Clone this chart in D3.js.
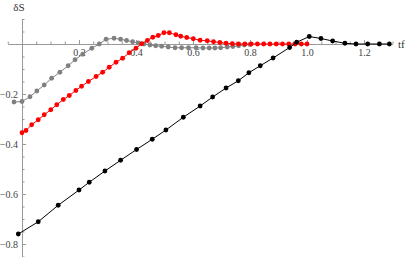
<!DOCTYPE html>
<html>
<head>
<meta charset="utf-8">
<script src="https://cdn.jsdelivr.net/npm/d3@7"></script>
<style>
  body { margin: 0; background: #fff; }
  svg { display: block; }
  .axis text { font-family: "Liberation Serif", "DejaVu Serif", serif; font-size: 10px; fill: #444; }
  .axis path, .axis line { stroke: #999; stroke-width: 1; }
</style>
</head>
<body>
<div id="chart"></div>
<script>
// values: [tf, deltaS]
var grayX = [-0.028, 0, 0.028, 0.052, 0.078, 0.104, 0.133, 0.162, 0.186, 0.213, 0.245, 0.271, 0.295, 0.323, 0.346, 0.367, 0.388, 0.408, 0.428, 0.449, 0.469, 0.49, 0.513, 0.537, 0.56, 0.584, 0.611, 0.635, 0.657, 0.677, 0.697, 0.72, 0.74, 0.76, 0.78, 0.8];
var grayY = [-0.232, -0.23, -0.211, -0.188, -0.164, -0.137, -0.113, -0.087, -0.063, -0.041, -0.017, 0, 0.019, 0.023, 0.019, 0.014, 0.009, 0.004, 0, -0.004, -0.007, -0.009, -0.012, -0.015, -0.015, -0.015, -0.015, -0.016, -0.016, -0.016, -0.015, -0.012, -0.01, -0.007, -0.004, -0.002];

var redX = [0, 0.014, 0.034, 0.057, 0.078, 0.101, 0.122, 0.145, 0.166, 0.189, 0.209, 0.233, 0.26, 0.283, 0.306, 0.33, 0.353, 0.376, 0.4, 0.42, 0.44, 0.459, 0.478, 0.498, 0.517, 0.54, 0.557, 0.578, 0.601, 0.625, 0.65, 0.672, 0.694, 0.716, 0.738, 0.76, 0.782, 0.804, 0.826, 0.848, 0.87, 0.892, 0.914, 0.936, 0.958, 0.98, 1.0];
var redY = [-0.355, -0.346, -0.323, -0.303, -0.283, -0.263, -0.243, -0.222, -0.206, -0.186, -0.169, -0.15, -0.13, -0.113, -0.093, -0.073, -0.057, -0.035, -0.017, 0.001, 0.014, 0.027, 0.034, 0.045, 0.045, 0.037, 0.031, 0.026, 0.021, 0.015, 0.013, 0.009, 0.006, 0.003, 0.001, 0, 0, 0, 0, 0, 0, 0, 0, 0, 0, 0, 0];

var blackX = [-0.013, 0.057, 0.127, 0.2, 0.236, 0.291, 0.346, 0.402, 0.457, 0.505, 0.566, 0.625, 0.669, 0.716, 0.759, 0.796, 0.836, 0.881, 0.939, 0.964, 1.008, 1.049, 1.09, 1.133, 1.172, 1.213, 1.254, 1.289];
var blackY = [-0.76, -0.711, -0.645, -0.584, -0.553, -0.508, -0.465, -0.422, -0.381, -0.344, -0.293, -0.248, -0.212, -0.176, -0.147, -0.115, -0.087, -0.056, -0.014, 0.007, 0.03, 0.022, 0.012, 0.003, 0, 0, 0, 0];

var xMajor = [0.2, 0.4, 0.6, 0.8, 1.0, 1.2];
var yMajor = [-0.8, -0.6, -0.4, -0.2];

var width = 409, height = 257;

var svg = d3.select('#chart')
  .append('svg')
  .attr('width', width)
  .attr('height', height);

var x = d3.scaleLinear().domain([-0.05, 1.3]).range([7.75, 392.5]);
var y = d3.scaleLinear().domain([-0.852, 0.1]).range([257, 19]);

var xMinor = d3.range(-0.05, 1.3001, 0.05).filter(function(v) {
  return Math.abs(v) > 1e-9 && xMajor.every(function(m) { return Math.abs(m - v) > 1e-9; });
});
var yMinor = d3.range(-0.85, 0.1001, 0.05).filter(function(v) {
  return Math.abs(v) > 1e-9 && yMajor.every(function(m) { return Math.abs(m - v) > 1e-9; });
});

// x axis (ticks point up)
var gx = svg.append('g')
  .attr('class', 'axis')
  .attr('transform', 'translate(0,' + y(0) + ')');
gx.call(d3.axisBottom(x).tickValues(xMajor).tickSize(-4).tickSizeOuter(0)
  .tickPadding(5).tickFormat(d3.format('.1f')));
gx.append('g')
  .call(d3.axisBottom(x).tickValues(xMinor).tickSize(-2.5).tickFormat(''))
  .select('.domain').remove();

// y axis (ticks point right)
var gy = svg.append('g')
  .attr('class', 'axis')
  .attr('transform', 'translate(' + x(0) + ',0)');
gy.call(d3.axisLeft(y).tickValues(yMajor).tickSize(-4).tickSizeOuter(0)
  .tickPadding(4).tickFormat(d3.format('.1f')));
gy.append('g')
  .call(d3.axisLeft(y).tickValues(yMinor).tickSize(-2.5).tickFormat(''))
  .select('.domain').remove();

// axis labels
svg.append('text')
  .attr('x', x(0) - 3)
  .attr('y', 11)
  .attr('text-anchor', 'middle')
  .style('font-family', '"Liberation Serif", "DejaVu Serif", serif')
  .style('font-size', '11px')
  .style('fill', '#333')
  .text('δS');

svg.append('text')
  .attr('x', 398)
  .attr('y', y(0) + 3.5)
  .style('font-family', '"Liberation Serif", "DejaVu Serif", serif')
  .style('font-size', '11px')
  .style('fill', '#333')
  .text('tf');

var line = d3.line()
  .x(function(d) { return x(d[0]); })
  .y(function(d) { return y(d[1]); });

function drawSeries(xs, ys, color) {
  var data = d3.zip(xs, ys);
  svg.append('path')
    .datum(data)
    .attr('d', line)
    .attr('fill', 'none')
    .attr('stroke', color)
    .attr('stroke-width', 1);
  svg.append('g')
    .selectAll('circle')
    .data(data)
    .enter()
    .append('circle')
    .attr('cx', function(d) { return x(d[0]); })
    .attr('cy', function(d) { return y(d[1]); })
    .attr('r', 2.4)
    .attr('fill', color);
}

drawSeries(grayX, grayY, '#808080');
drawSeries(redX, redY, '#ff0000');
drawSeries(blackX, blackY, '#000000');
</script>
</body>
</html>
